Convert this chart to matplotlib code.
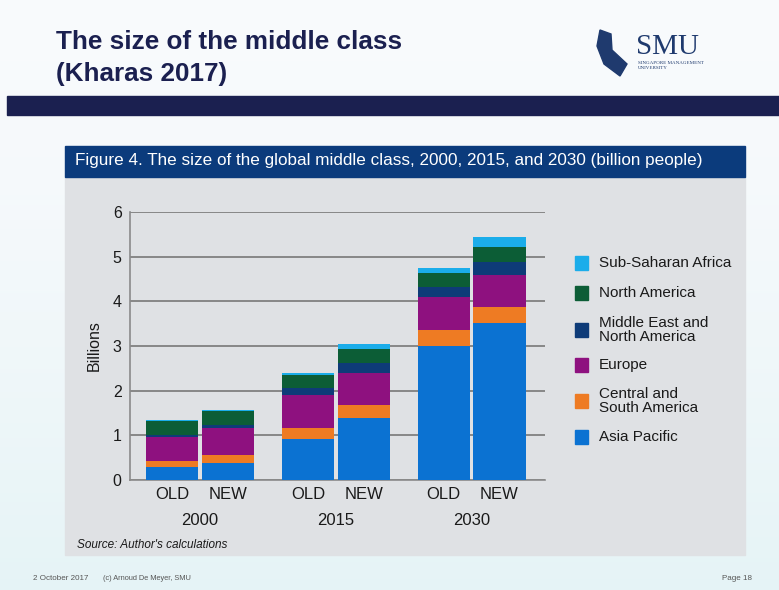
import numpy as np
import matplotlib
matplotlib.use("Agg")
import matplotlib.pyplot as plt
from matplotlib.patches import Rectangle, Polygon

plt.rcParams['font.family'] = ['Liberation Sans', 'DejaVu Sans']

# data (billion people), bars in order OLD/NEW for each year
years = ["2000", "2015", "2030"]
versions = ["OLD", "NEW"]
regions = ["Asia Pacific", "Central and\nSouth America", "Europe",
           "Middle East and\nNorth America", "North America", "Sub-Saharan Africa"]
asia_pacific = [0.28, 0.39, 0.91, 1.38, 3.01, 3.51]
central_south_america = [0.15, 0.17, 0.25, 0.30, 0.35, 0.36]
europe = [0.54, 0.60, 0.74, 0.72, 0.73, 0.72]
middle_east_north_africa = [0.04, 0.07, 0.15, 0.21, 0.24, 0.30]
north_america = [0.31, 0.32, 0.30, 0.32, 0.30, 0.33]
sub_saharan_africa = [0.02, 0.02, 0.04, 0.11, 0.11, 0.21]
series = [asia_pacific, central_south_america, europe,
          middle_east_north_africa, north_america, sub_saharan_africa]
colors = ["#0b72d2", "#ee7b23", "#8e117f", "#0e3b78", "#0c5d36", "#1badea"]

navy = "#1b2050"
txt = "#1a1a1a"

fig = plt.figure(figsize=(7.79, 5.90), dpi=100)

# slide background, light gradient
bg = fig.add_axes([0, 0, 1, 1], zorder=-10)
grad = np.linspace(0, 1, 256).reshape(-1, 1)
top = np.array([0.975, 0.982, 0.99])
bottom = np.array([0.90, 0.955, 0.965])
img = top + (bottom - top) * grad[..., None] ** 1.5
bg.imshow(img, aspect="auto", extent=[0, 1, 0, 1], origin="upper")
bg.set_xlim(0, 1)
bg.set_ylim(0, 1)
bg.axis("off")

W, H = 779.0, 590.0
def fx(px):
    return px / W
def fy(py):
    return 1 - py / H

def box(x0, y0, x1, y1, col):
    # rectangle in pixel coords of the slide, drawn under the chart axes
    r = Rectangle((fx(x0), fy(y1)), (x1 - x0) / W, (y1 - y0) / H,
                  transform=fig.transFigure, color=col, zorder=-5)
    fig.patches.append(r)

# title
fig.text(fx(56), fy(42), "The size of the middle class", fontsize=18.8,
         fontweight="bold", color=navy, va="center")
fig.text(fx(56), fy(74), "(Kharas 2017)", fontsize=18.8,
         fontweight="bold", color=navy, va="center")

# logo
fig.patches.append(Polygon([[fx(600), fy(30)], [fx(611), fy(34)], [fx(612), fy(50)],
                            [fx(627), fy(64)], [fx(620), fy(76)], [fx(604), fy(64)],
                            [fx(597), fy(46)]],
                           closed=True, transform=fig.transFigure, color="#1f3a6e"))
fig.text(fx(636), fy(47), "SMU", family="Liberation Serif", fontsize=21,
         color="#1f3a6e", va="center")
fig.text(fx(638), fy(63), "SINGAPORE MANAGEMENT", family="Liberation Serif",
         fontsize=3.6, color="#1f3a6e", va="center")
fig.text(fx(638), fy(68), "UNIVERSITY", family="Liberation Serif",
         fontsize=3.6, color="#1f3a6e", va="center")

# navy band
box(7, 96, 779, 115, navy)

# chart panel
box(65, 177, 745, 555, "#dfe1e4")
box(65, 146, 745, 177, "#0b3b7c")
fig.text(fx(75), fy(161), "Figure 4. The size of the global middle class, "
         "2000, 2015, and 2030 (billion people)", fontsize=12.3,
         color="white", va="center")
fig.text(fx(77), fy(545), "Source: Author's calculations", fontsize=8.5,
         color=txt, va="center", style="italic")

# footer
fig.text(fx(33), fy(578), "2 October 2017", fontsize=5.8, color="#555555", va="center")
fig.text(fx(103), fy(578), "(c) Arnoud De Meyer, SMU", fontsize=5.3,
         color="#555555", va="center")
fig.text(fx(752), fy(578), "Page 18", fontsize=5.8, color="#555555",
         va="center", ha="right")

# bar chart
ax = fig.add_axes([fx(130), fy(480), (545 - 130) / W, (480 - 212) / H])
ax.set_facecolor("none")
group = np.arange(len(years))
xpos = np.array([[g - 0.205, g + 0.205] for g in group]).ravel()
width = 0.385
base = np.zeros(len(xpos))
for vals, col in zip(series, colors):
    ax.bar(xpos, vals, width, bottom=base, color=col, zorder=3)
    base += np.array(vals)

ax.set_ylim(0, 6)
ax.set_xlim(-0.515, 2.54)
ax.set_yticks(range(0, 7))
ax.tick_params(axis="y", length=0, pad=6, labelsize=11.5, labelcolor=txt)
ax.tick_params(axis="x", length=0, pad=5, labelsize=12, labelcolor=txt)
ax.set_xticks(xpos)
ax.set_xticklabels(versions * len(years))
ax.yaxis.grid(True, color="#808080", lw=1.3, zorder=1)
for s in ["top", "right"]:
    ax.spines[s].set_visible(False)
ax.spines["left"].set_color("#8a8a8a")
ax.spines["bottom"].set_color("#8a8a8a")
ax.spines["left"].set_linewidth(1.2)
ax.spines["bottom"].set_linewidth(1.2)
ax.set_ylabel("Billions", fontsize=11.5, color=txt)
ax.yaxis.set_label_coords(-0.068, 0.5)
for g, yr in zip(group, years):
    ax.text(g, -0.15, yr, transform=ax.get_xaxis_transform(), ha="center",
            va="center", fontsize=12, color=txt)

# legend, top entry first
legend_y = [263, 293, 330, 365, 401, 437]
for (lab, col), ly in zip(list(zip(regions, colors))[::-1], legend_y):
    box(575, ly - 7, 588, ly + 7, col)
    fig.text(fx(599), fy(ly), lab, fontsize=11, color=txt, va="center",
             linespacing=1.05)

fig.savefig("out.png", dpi=100)
